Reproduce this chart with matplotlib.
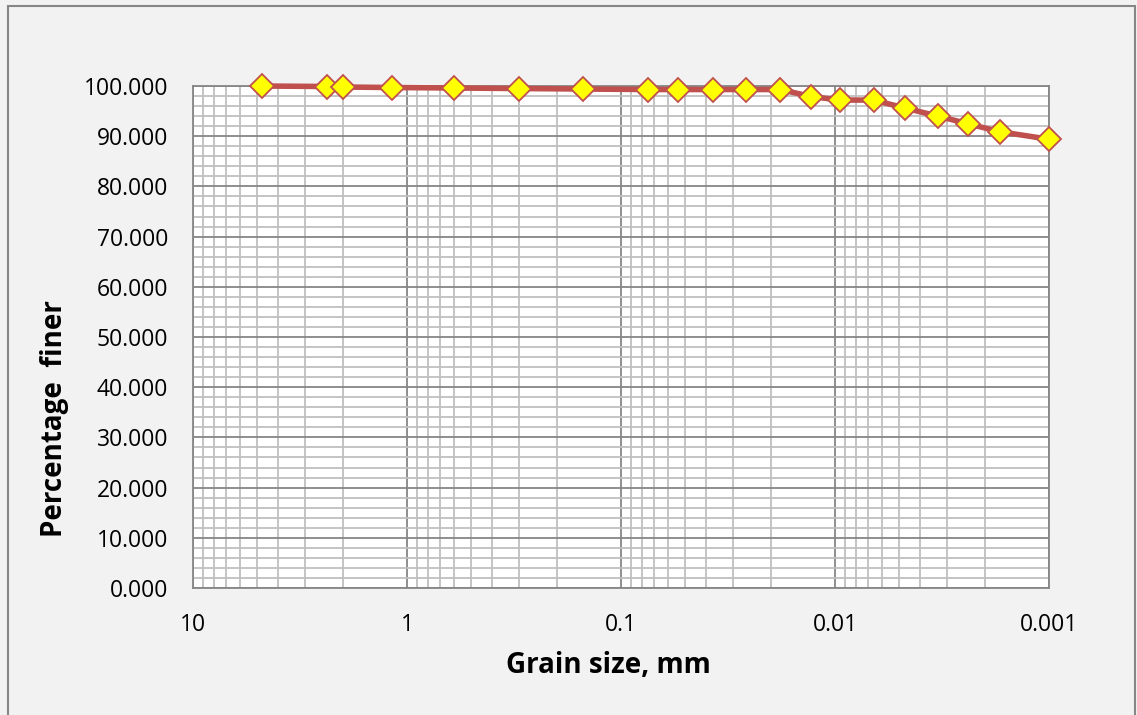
import matplotlib
matplotlib.use("Agg")
import matplotlib.pyplot as plt
from matplotlib.ticker import FixedLocator, FixedFormatter, MultipleLocator, LogLocator, NullFormatter

# sieve + hydrometer results
grain_size = [4.75, 2.36, 2.0, 1.18, 0.6, 0.3, 0.15, 0.075, 0.054, 0.037,
              0.026, 0.018, 0.0129, 0.0095, 0.0066, 0.0047, 0.0033, 0.0024,
              0.0017, 0.001]
pct_finer = [100.0, 99.9, 99.8, 99.7, 99.6, 99.5, 99.4, 99.3, 99.3, 99.3,
             99.3, 99.3, 97.9, 97.2, 97.2, 95.6, 94.0, 92.5, 90.9, 89.4]
x_ticks = [10, 1, 0.1, 0.01, 0.001]
x_labels = ["10", "1", "0.1", "0.01", "0.001"]

plt.rcParams["font.family"] = ["Open Sans", "DejaVu Sans"]

fig = plt.figure(figsize=(11.37, 7.15), dpi=100, facecolor="#f2f2f2")
ax = fig.add_axes([0.1697, 0.1776, 0.7529, 0.7021])
ax.set_facecolor("white")

ax.plot(grain_size, pct_finer, color="#c0504d", lw=4, marker="D", ms=12,
        mfc="#ffff00", mec="#c0504d", mew=1.3, zorder=3, clip_on=False)

ax.set_xscale("log")
ax.set_xlim(10, 0.001)
ax.set_ylim(0, 100)

ax.xaxis.set_major_locator(FixedLocator(x_ticks))
ax.xaxis.set_major_formatter(FixedFormatter(x_labels))
ax.xaxis.set_minor_locator(LogLocator(base=10, subs=range(2, 10), numticks=20))
ax.xaxis.set_minor_formatter(NullFormatter())
ax.yaxis.set_major_locator(MultipleLocator(10))
ax.yaxis.set_minor_locator(MultipleLocator(2))
ax.yaxis.set_major_formatter(lambda v, p: f"{v:.3f}")

ax.grid(which="major", color="#868686", lw=1.3)
ax.grid(which="minor", color="#bfbfbf", lw=1.3)
ax.set_axisbelow(True)
ax.tick_params(which="both", length=0, labelsize=16.5)
ax.tick_params(axis="y", pad=18)
ax.tick_params(axis="x", pad=18)
for s in ax.spines.values():
    s.set_color("#868686")
    s.set_linewidth(1.3)

ax.set_xlabel("Grain size, mm", fontsize=20, fontweight="bold")
ax.set_ylabel("Percentage  finer", fontsize=20, fontweight="bold")
ax.xaxis.set_label_coords(0.485, -0.125)
ax.yaxis.set_label_coords(-0.145, 0.337)

# chart border
fig.patches.append(plt.Rectangle((0.007, -0.01), 0.991, 1.001, transform=fig.transFigure,
                                 fill=False, edgecolor="#868686", lw=1.5))

fig.savefig("out.png", dpi=100, facecolor=fig.get_facecolor())
